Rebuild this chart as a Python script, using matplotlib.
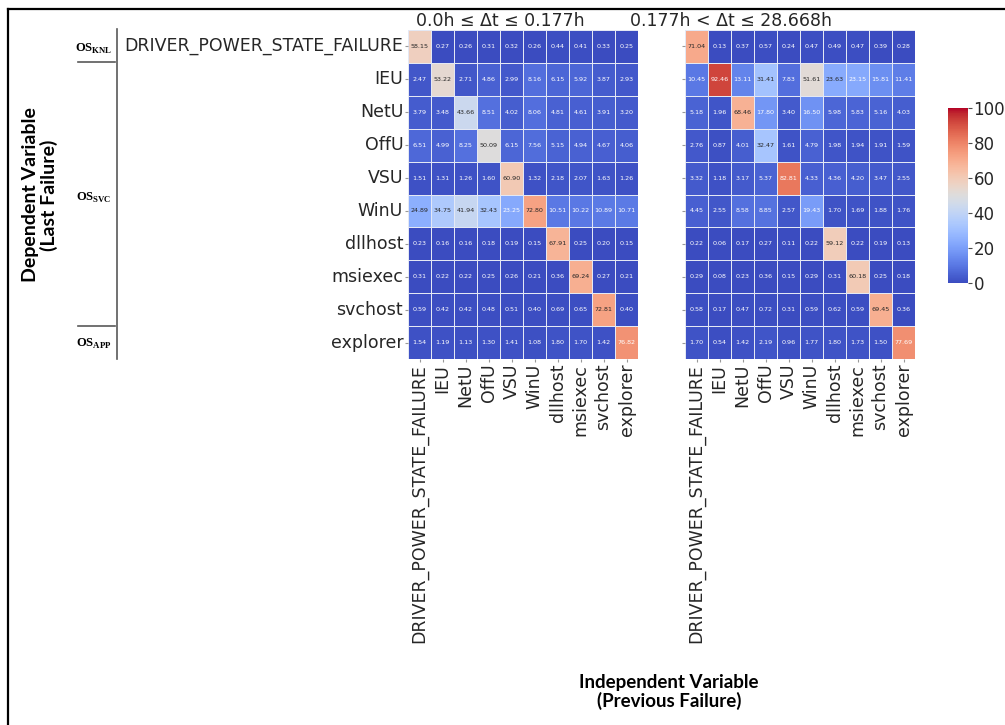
import numpy as np
import matplotlib
matplotlib.use("Agg")
import matplotlib.pyplot as plt
from matplotlib.lines import Line2D
import seaborn as sns

plt.rcParams['mathtext.fontset'] = 'custom'
plt.rcParams['mathtext.rm'] = 'Liberation Serif'
plt.rcParams['mathtext.bf'] = 'Liberation Serif:bold'
plt.rcParams['font.family'] = ['DejaVu Sans']

labels = ["DRIVER_POWER_STATE_FAILURE", "IEU", "NetU", "OffU", "VSU", "WinU",
          "dllhost", "msiexec", "svchost", "explorer"]

# share of last failure (rows) given previous failure (cols), short gap
short_gap = np.array([
    [58.15, 0.27, 0.26, 0.31, 0.32, 0.26, 0.44, 0.41, 0.33, 0.25],
    [2.47, 53.22, 2.71, 4.86, 2.99, 8.16, 6.15, 5.92, 3.87, 2.93],
    [3.79, 3.48, 43.66, 8.51, 4.02, 8.06, 4.81, 4.61, 3.91, 3.20],
    [6.51, 4.99, 8.25, 50.09, 6.15, 7.56, 5.15, 4.94, 4.67, 4.06],
    [1.51, 1.31, 1.26, 1.60, 60.90, 1.32, 2.18, 2.07, 1.63, 1.26],
    [24.89, 34.75, 41.94, 32.43, 23.25, 72.80, 10.51, 10.22, 10.89, 10.71],
    [0.23, 0.16, 0.16, 0.18, 0.19, 0.15, 67.91, 0.25, 0.20, 0.15],
    [0.31, 0.22, 0.22, 0.25, 0.26, 0.21, 0.36, 69.24, 0.27, 0.21],
    [0.59, 0.42, 0.42, 0.48, 0.51, 0.40, 0.69, 0.65, 72.81, 0.40],
    [1.54, 1.19, 1.13, 1.30, 1.41, 1.08, 1.80, 1.70, 1.42, 76.82],
])

# long gap
long_gap = np.array([
    [71.04, 0.13, 0.37, 0.57, 0.24, 0.47, 0.49, 0.47, 0.39, 0.28],
    [10.45, 92.46, 13.11, 31.41, 7.83, 51.61, 23.63, 23.15, 15.81, 11.41],
    [5.18, 1.96, 68.46, 17.80, 3.40, 16.50, 5.98, 5.83, 5.16, 4.03],
    [2.76, 0.87, 4.01, 32.47, 1.61, 4.79, 1.98, 1.94, 1.91, 1.59],
    [3.32, 1.18, 3.17, 5.37, 82.81, 4.33, 4.36, 4.20, 3.47, 2.55],
    [4.45, 2.55, 8.58, 8.85, 2.57, 19.43, 1.70, 1.69, 1.88, 1.76],
    [0.22, 0.06, 0.17, 0.27, 0.11, 0.22, 59.12, 0.22, 0.19, 0.13],
    [0.29, 0.08, 0.23, 0.36, 0.15, 0.29, 0.31, 60.18, 0.25, 0.18],
    [0.58, 0.17, 0.47, 0.72, 0.31, 0.59, 0.62, 0.59, 69.45, 0.36],
    [1.70, 0.54, 1.42, 2.19, 0.96, 1.77, 1.80, 1.73, 1.50, 77.69],
])

titles = ["0.0h \u2264 \u0394t \u2264 0.177h", "0.177h < \u0394t \u2264 28.668h"]
groups = [r"$\mathbf{OS}_{\mathbf{KNL}}$", r"$\mathbf{OS}_{\mathbf{SVC}}$", r"$\mathbf{OS}_{\mathbf{APP}}$"]

W, H = 1005, 725
def fx(x):
    return x / W
def fy(y):
    return 1 - y / H

fig = plt.figure(figsize=(10.05, 7.25), dpi=100)

ax1 = fig.add_axes([fx(408), fy(359), 230 / W, 329 / H])
ax2 = fig.add_axes([fx(685), fy(359), 230 / W, 329 / H])
cax = fig.add_axes([fx(948), fy(283), 20 / W, 175 / H])

common = dict(cmap="coolwarm", vmin=0, vmax=100, annot=True, fmt=".2f",
              annot_kws={"size": 4.6}, linewidths=0.5, linecolor="#e4e8f4")
sns.heatmap(short_gap, ax=ax1, cbar=False, xticklabels=labels, yticklabels=labels, **common)
sns.heatmap(long_gap, ax=ax2, cbar_ax=cax, xticklabels=labels, yticklabels=False, **common)

for ax in (ax1, ax2):
    ax.tick_params(axis='x', labelrotation=90, labelsize=12.5, colors="#262626", length=2.5, color="0.6", pad=1)
    ax.tick_params(axis='y', labelrotation=0, labelsize=12.5, colors="#262626", length=2.5, color="0.6", pad=1)
ax2.set_yticks(np.arange(10) + 0.5)
ax2.set_yticklabels([])

cax.tick_params(labelsize=12, length=3, colors="#262626", color="0.3", pad=1)
cax.set_yticks([0, 20, 40, 60, 80, 100])

fig.text(fx(500), fy(21), titles[0], ha='center', va='center', fontsize=12.5, color="#262626")
fig.text(fx(731), fy(21), titles[1], ha='center', va='center', fontsize=12.5, color="#262626")

# group labels and brackets on the left
fig.text(fx(94), fy(49), groups[0], ha='center', va='center', fontsize=9)
fig.text(fx(94), fy(198), groups[1], ha='center', va='center', fontsize=9)
fig.text(fx(94), fy(344), groups[2], ha='center', va='center', fontsize=9)
fig.add_artist(Line2D([fx(117), fx(117)], [fy(29), fy(359)], color="0.35", lw=1.2))
fig.add_artist(Line2D([fx(78), fx(115)], [fy(62), fy(62)], color="0.35", lw=1.2))
fig.add_artist(Line2D([fx(78), fx(115)], [fy(326), fy(326)], color="0.35", lw=1.2))

fig.text(fx(40), fy(195), "Dependent Variable\n(Last Failure)", rotation=90, ha='center', va='center',
         fontsize=14, fontweight='bold', family='Lato', linespacing=1.1)
fig.text(fx(669), fy(692), "Independent Variable\n(Previous Failure)", ha='center', va='center',
         fontsize=13.5, fontweight='bold', family='Lato', linespacing=1.1)

# frame around the figure (top and left edges visible)
fig.add_artist(Line2D([fx(7.5), 1], [fy(8.5), fy(8.5)], color="black", lw=1.6))
fig.add_artist(Line2D([fx(7.5), fx(7.5)], [fy(8.5), 0], color="black", lw=1.6))

fig.savefig("out.png", dpi=100)
